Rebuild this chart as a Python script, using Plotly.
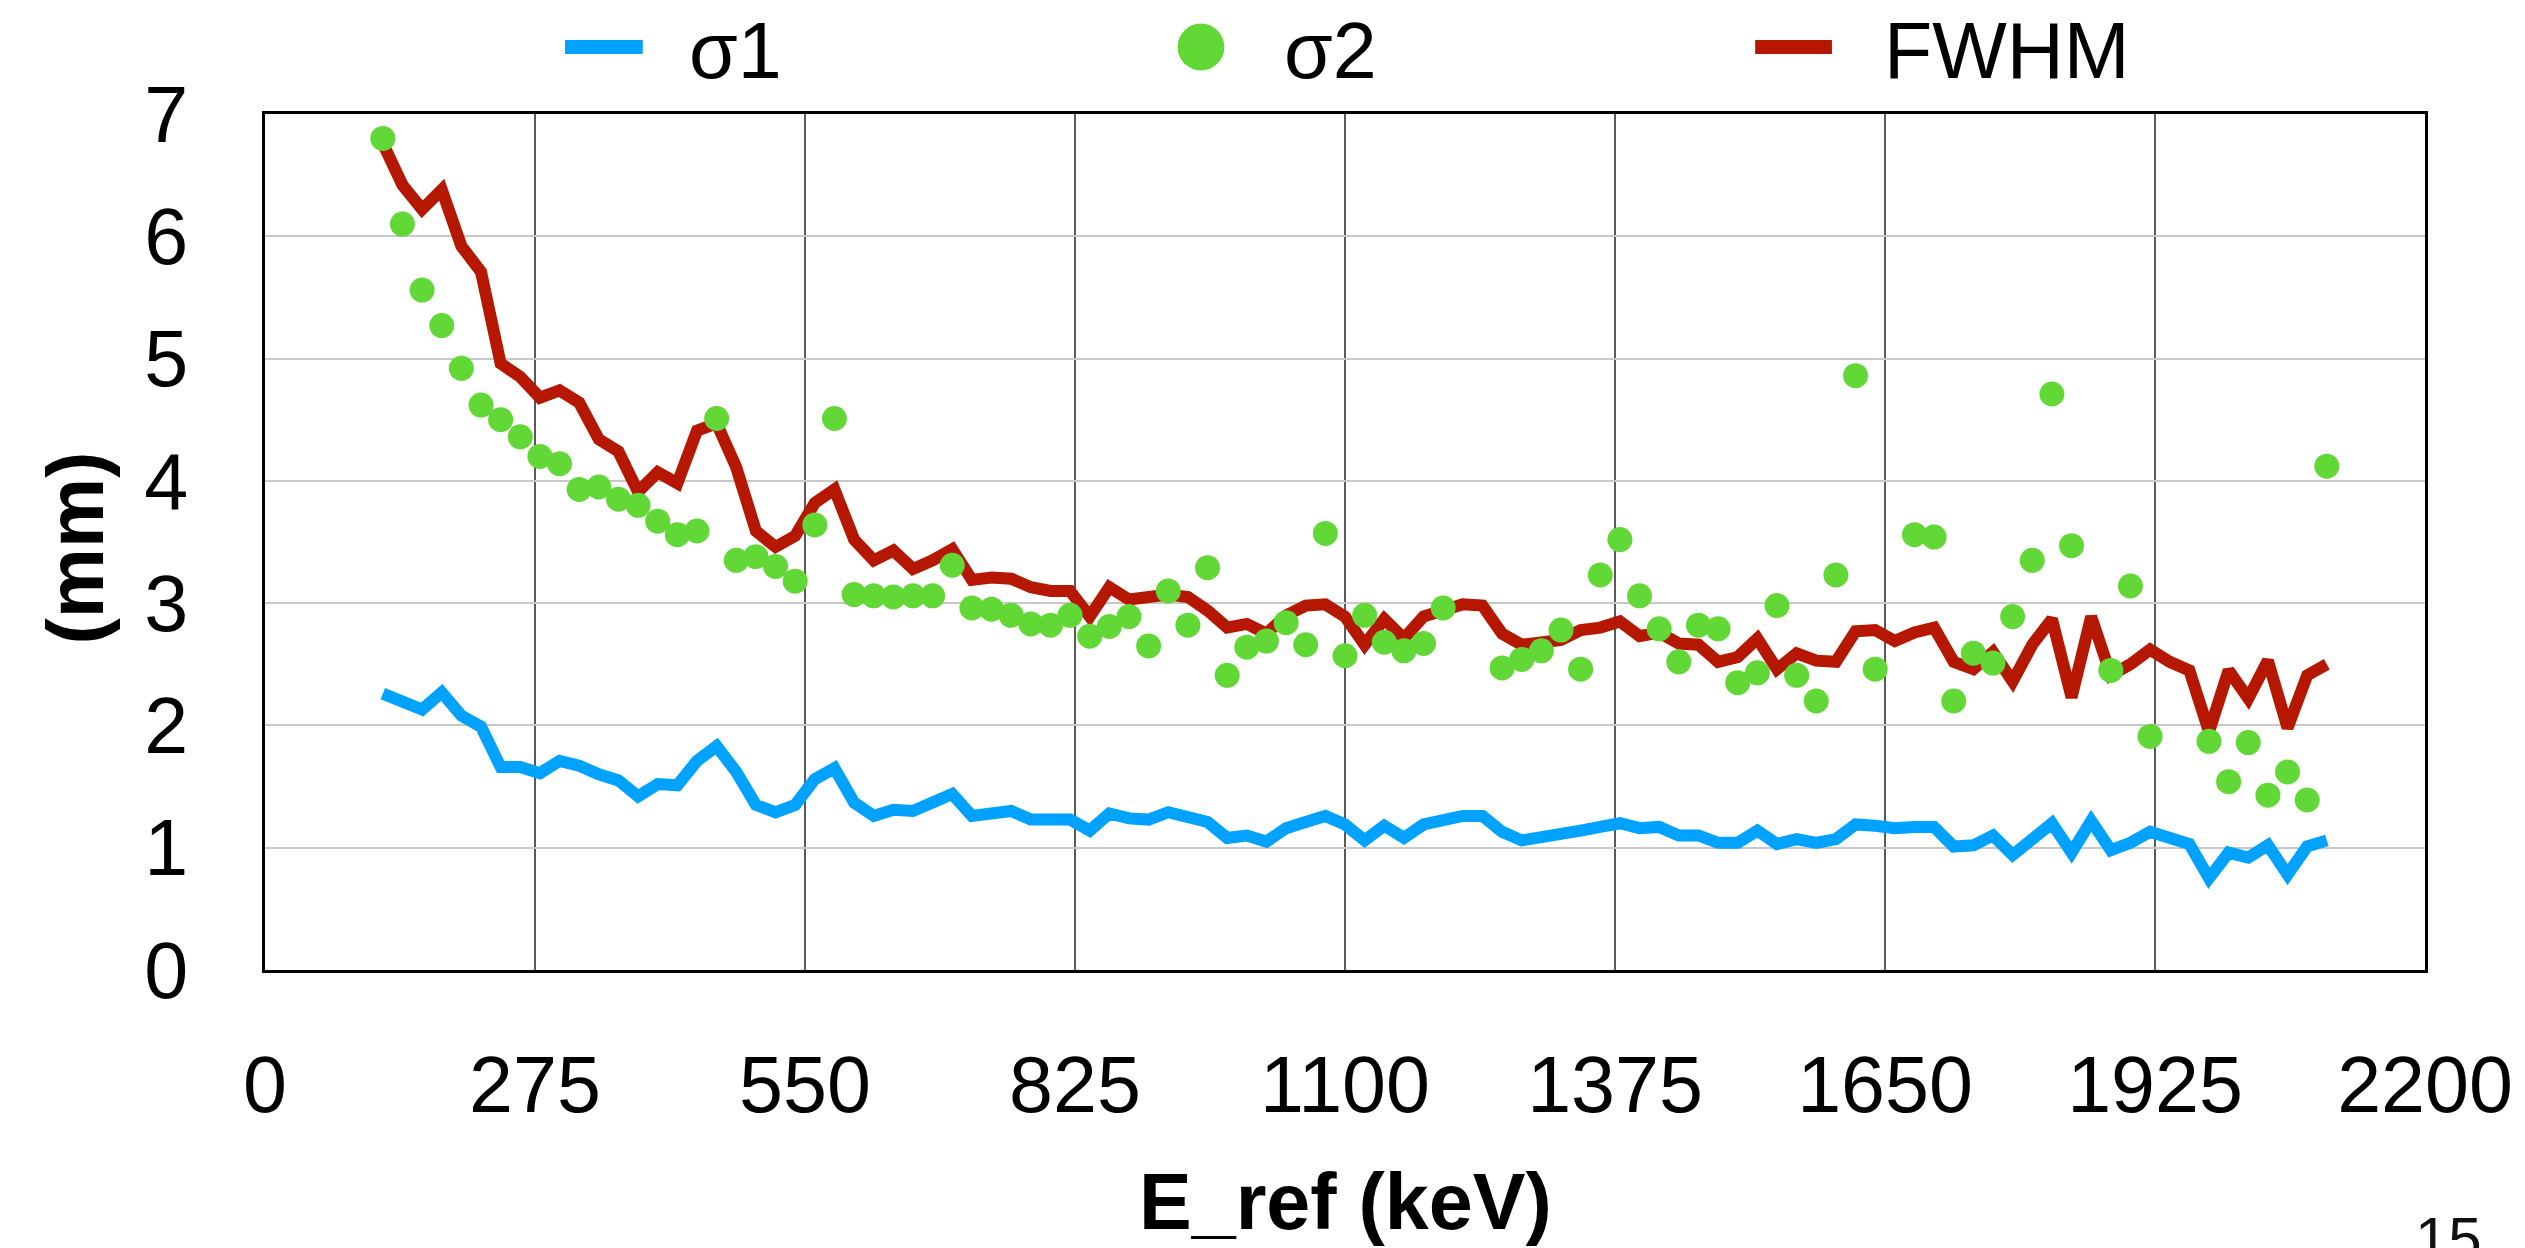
import plotly.graph_objects as go

# Reference energy (keV)
energy_kev = [
    120, 140, 160, 180, 200, 220, 240, 260, 280, 300,
    320, 340, 360, 380, 400, 420, 440, 460, 480, 500,
    520, 540, 560, 580, 600, 620, 640, 660, 680, 700,
    720, 740, 760, 780, 800, 820, 840, 860, 880, 900,
    920, 940, 960, 980, 1000, 1020, 1040, 1060, 1080, 1100,
    1120, 1140, 1160, 1180, 1200, 1220, 1240, 1260, 1280, 1300,
    1320, 1340, 1360, 1380, 1400, 1420, 1440, 1460, 1480, 1500,
    1520, 1540, 1560, 1580, 1600, 1620, 1640, 1660, 1680, 1700,
    1720, 1740, 1760, 1780, 1800, 1820, 1840, 1860, 1880, 1900,
    1920, 1940, 1960, 1980, 2000, 2020, 2040, 2060, 2080, 2100,
]

# Width of the narrow component (mm)
sigma1 = [
    2.26, 2.19, 2.13, 2.27, 2.08, 1.99, 1.66, 1.66, 1.61, 1.71,
    1.67, 1.60, 1.55, 1.42, 1.52, 1.51, 1.71, 1.83, 1.62, 1.35,
    1.29, 1.35, 1.56, 1.65, 1.37, 1.26, 1.31, 1.30, 1.37, 1.44,
    1.26, 1.27, 1.30, 1.23, 1.22, 1.23, 1.14, 1.28, 1.24, 1.23,
    1.29, 1.26, 1.21, 1.08, 1.10, 1.05, 1.16, 1.21, 1.26, 1.19,
    1.06, 1.18, 1.08, 1.19, 1.23, 1.26, 1.26, 1.13, 1.06, 1.08,
    1.11, 1.14, 1.17, 1.20, 1.16, 1.17, 1.10, 1.10, 1.04, 1.04,
    1.14, 1.03, 1.07, 1.04, 1.07, 1.19, 1.18, 1.16, 1.17, 1.17,
    1.01, 1.02, 1.10, 0.94, 1.07, 1.20, 0.96, 1.22, 0.98, 1.04,
    1.13, 1.07, 1.03, 0.75, 0.96, 0.92, 1.02, 0.78, 1.01, 1.06,
]

# Width of the broad component (mm); None where the fit gave no value
sigma2 = [
    6.80, 6.10, 5.56, 5.27, 4.92, 4.62, 4.50, 4.36, 4.20, 4.14,
    3.93, 3.95, 3.85, 3.80, 3.67, 3.56, 3.59, 4.51, 3.35, 3.38,
    3.30, 3.18, 3.64, 4.51, 3.07, 3.06, 3.05, 3.06, 3.06, 3.31,
    2.96, 2.95, 2.90, 2.83, 2.82, 2.90, 2.73, 2.81, 2.89, 2.65,
    3.10, 2.82, 3.29, 2.41, 2.64, 2.69, 2.84, 2.66, 3.57, 2.57,
    2.90, 2.68, 2.61, 2.67, 2.96, None, None, 2.47, 2.54, 2.61,
    2.78, 2.46, 3.23, 3.52, 3.06, 2.79, 2.52, 2.82, 2.79, 2.35,
    2.43, 2.98, 2.41, 2.20, 3.23, 4.86, 2.46, None, 3.56, 3.54,
    2.20, 2.59, 2.51, 2.89, 3.35, 4.71, 3.47, None, 2.45, 3.14,
    1.91, None, None, 1.87, 1.54, 1.86, 1.43, 1.62, 1.39, 4.12,
]

# Full width at half maximum (mm)
fwhm = [
    6.76, 6.42, 6.22, 6.38, 5.92, 5.71, 4.96, 4.85, 4.68, 4.74,
    4.64, 4.34, 4.24, 3.91, 4.07, 3.98, 4.41, 4.47, 4.11, 3.59,
    3.46, 3.55, 3.82, 3.93, 3.52, 3.35, 3.43, 3.28, 3.35, 3.44,
    3.19, 3.21, 3.20, 3.13, 3.10, 3.10, 2.89, 3.13, 3.03, 3.04,
    3.07, 3.05, 2.94, 2.80, 2.83, 2.75, 2.90, 2.98, 2.99, 2.89,
    2.66, 2.87, 2.71, 2.89, 2.93, 2.99, 2.98, 2.75, 2.66, 2.69,
    2.70, 2.78, 2.80, 2.85, 2.73, 2.76, 2.67, 2.66, 2.52, 2.56,
    2.71, 2.46, 2.59, 2.53, 2.52, 2.77, 2.78, 2.69, 2.76, 2.80,
    2.52, 2.46, 2.60, 2.36, 2.66, 2.87, 2.23, 2.89, 2.41, 2.50,
    2.62, 2.52, 2.45, 1.95, 2.45, 2.22, 2.53, 1.98, 2.41, 2.50,
]

x_ticks = [0, 275, 550, 825, 1100, 1375, 1650, 1925, 2200]
y_ticks = [0, 1, 2, 3, 4, 5, 6, 7]

BLUE = "#00A2FF"
GREEN = "#61D836"
RED = "#B51700"
FONT = "Liberation Sans, Arial, Helvetica, sans-serif"

W, H = 2525, 1248
L, R, T, B = 265, 93, 114, 278
PW, PH = W - L - R, H - T - B


def px_x(px):
    return (px - L) / PW


def px_y(py):
    return (H - B - py) / PH


fig = go.Figure()
fig.add_trace(go.Scatter(
    x=energy_kev, y=sigma1, name="σ1", mode="lines",
    line=dict(color=BLUE, width=12), showlegend=False,
))
fig.add_trace(go.Scatter(
    x=energy_kev, y=fwhm, name="FWHM", mode="lines",
    line=dict(color=RED, width=12), showlegend=False,
))
fig.add_trace(go.Scatter(
    x=energy_kev, y=sigma2, name="σ2", mode="markers",
    marker=dict(color=GREEN, size=25, line=dict(width=0)), showlegend=False,
))

# Legend row across the top
shapes = [
    dict(type="line", xref="paper", yref="paper",
         x0=px_x(566), x1=px_x(644), y0=px_y(47), y1=px_y(47),
         line=dict(color=BLUE, width=14)),
    dict(type="circle", xref="paper", yref="paper",
         x0=px_x(1204 - 23.5), x1=px_x(1204 + 23.5),
         y0=px_y(47 + 23.5), y1=px_y(47 - 23.5),
         fillcolor=GREEN, line=dict(width=0)),
    dict(type="line", xref="paper", yref="paper",
         x0=px_x(1760), x1=px_x(1837), y0=px_y(47), y1=px_y(47),
         line=dict(color=RED, width=14)),
]

legend_font = dict(family=FONT, size=79, color="black")
annotations = [
    dict(text="σ1", x=px_x(688), y=px_y(50), xref="paper", yref="paper",
         xanchor="left", yanchor="middle", showarrow=False, font=legend_font),
    dict(text="σ2", x=px_x(1285), y=px_y(50), xref="paper", yref="paper",
         xanchor="left", yanchor="middle", showarrow=False, font=legend_font),
    dict(text="FWHM", x=px_x(1887), y=px_y(50), xref="paper", yref="paper",
         xanchor="left", yanchor="middle", showarrow=False, font=legend_font),
    # axis titles
    dict(text="<b>E_ref (keV)</b>", x=0.5, y=px_y(1201), xref="paper", yref="paper",
         xanchor="center", yanchor="middle", showarrow=False,
         font=dict(family=FONT, size=79, color="black")),
    dict(text="<b>(mm)</b>", x=px_x(74), y=px_y(548), xref="paper", yref="paper",
         xanchor="center", yanchor="middle", showarrow=False, textangle=-90,
         font=dict(family=FONT, size=79, color="black")),
    # page number
    dict(text="15", x=px_x(2420), y=px_y(1203), xref="paper", yref="paper",
         xanchor="left", yanchor="top", showarrow=False,
         font=dict(family=FONT, size=60, color="#111111")),
]

fig.update_layout(
    width=W, height=H,
    margin=dict(l=L, r=R, t=T, b=B, pad=0),
    paper_bgcolor="white", plot_bgcolor="white",
    font=dict(family=FONT, size=79, color="black"),
    shapes=shapes, annotations=annotations,
    showlegend=False,
)
fig.update_xaxes(
    range=[0, 2200], tickvals=x_ticks, ticktext=[str(v) for v in x_ticks],
    showgrid=True, gridcolor="#5a5a5a", gridwidth=1.5,
    showline=True, linecolor="black", linewidth=3, mirror=True,
    ticks="", ticklabelstandoff=44, zeroline=False,
    tickfont=dict(family=FONT, size=79, color="black"),
)
fig.update_yaxes(
    range=[0, 7], tickvals=y_ticks,
    showgrid=True, gridcolor="#c8c8c8", gridwidth=2,
    showline=True, linecolor="black", linewidth=3, mirror=True,
    ticks="", ticklabelstandoff=58, zeroline=False,
    tickfont=dict(family=FONT, size=79, color="black"),
)

fig.write_html("out.html")
